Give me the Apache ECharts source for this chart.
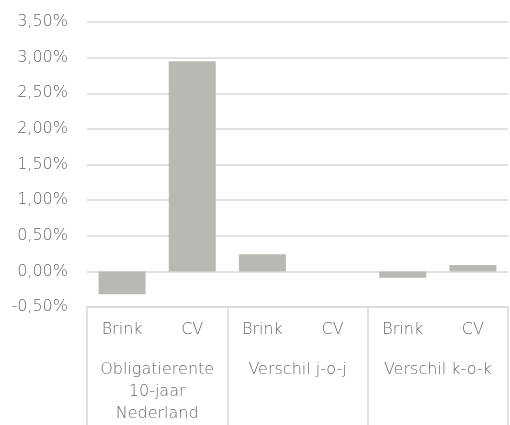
<!DOCTYPE html>
<html>
<head>
<meta charset="utf-8">
<script src="https://cdn.jsdelivr.net/npm/echarts@6/dist/echarts.min.js"></script>
<style>
html,body{margin:0;padding:0;background:#fff;}
#c{width:510px;height:425px;}
</style>
</head>
<body>
<div id="c"></div>
<script>
var subCategories = ['Brink', 'CV', 'Brink', 'CV', 'Brink', 'CV'];
var groupCategories = ['Obligatierente\n10-jaar\nNederland', 'Verschil j-o-j', 'Verschil k-o-k'];
var values = [-0.32, 2.95, 0.24, 0.00, -0.09, 0.09];
var yTicks = { min: -0.5, max: 3.5, step: 0.5 };

var textColor = '#686868';
var lineColor = '#d9d9d9';
var font = '"DejaVu Sans"';

var chart = echarts.init(document.getElementById('c'), null, { renderer: 'canvas' });
chart.setOption({
  animation: false,
  backgroundColor: '#ffffff',
  textStyle: { fontFamily: font },
  grid: { left: 87, right: 2, top: 22, bottom: 118, containLabel: false },
  xAxis: [
    {
      type: 'category',
      data: subCategories,
      position: 'bottom',
      axisLine: { show: true, onZero: false, lineStyle: { color: lineColor, width: 1.5 } },
      axisTick: { show: false },
      axisLabel: { color: textColor, fontSize: 16, fontWeight: 200, fontFamily: font, margin: 15, interval: 0 },
      splitLine: { show: false }
    },
    {
      type: 'category',
      data: groupCategories,
      position: 'bottom',
      axisLine: { show: false, onZero: false },
      axisTick: { show: true, interval: 0, length: 130, lineStyle: { color: lineColor, width: 1.5 } },
      axisLabel: { color: textColor, fontSize: 16, fontWeight: 200, fontFamily: font, margin: 52, interval: 0, lineHeight: 22, align: 'center' },
      splitLine: { show: false }
    }
  ],
  yAxis: {
    type: 'value',
    min: yTicks.min,
    max: yTicks.max,
    interval: yTicks.step,
    axisLine: { show: false },
    axisTick: { show: false },
    axisLabel: {
      color: textColor, fontSize: 16, fontWeight: 200, fontFamily: font, margin: 19,
      formatter: function (v) { return v.toFixed(2).replace('.', ',') + '%'; }
    },
    splitLine: { lineStyle: { color: lineColor, width: 1.5 } }
  },
  series: [{
    type: 'bar',
    xAxisIndex: 0,
    data: values,
    barCategoryGap: '33%',
    itemStyle: { color: '#b9b8b3' }
  }]
});
</script>
</body>
</html>
